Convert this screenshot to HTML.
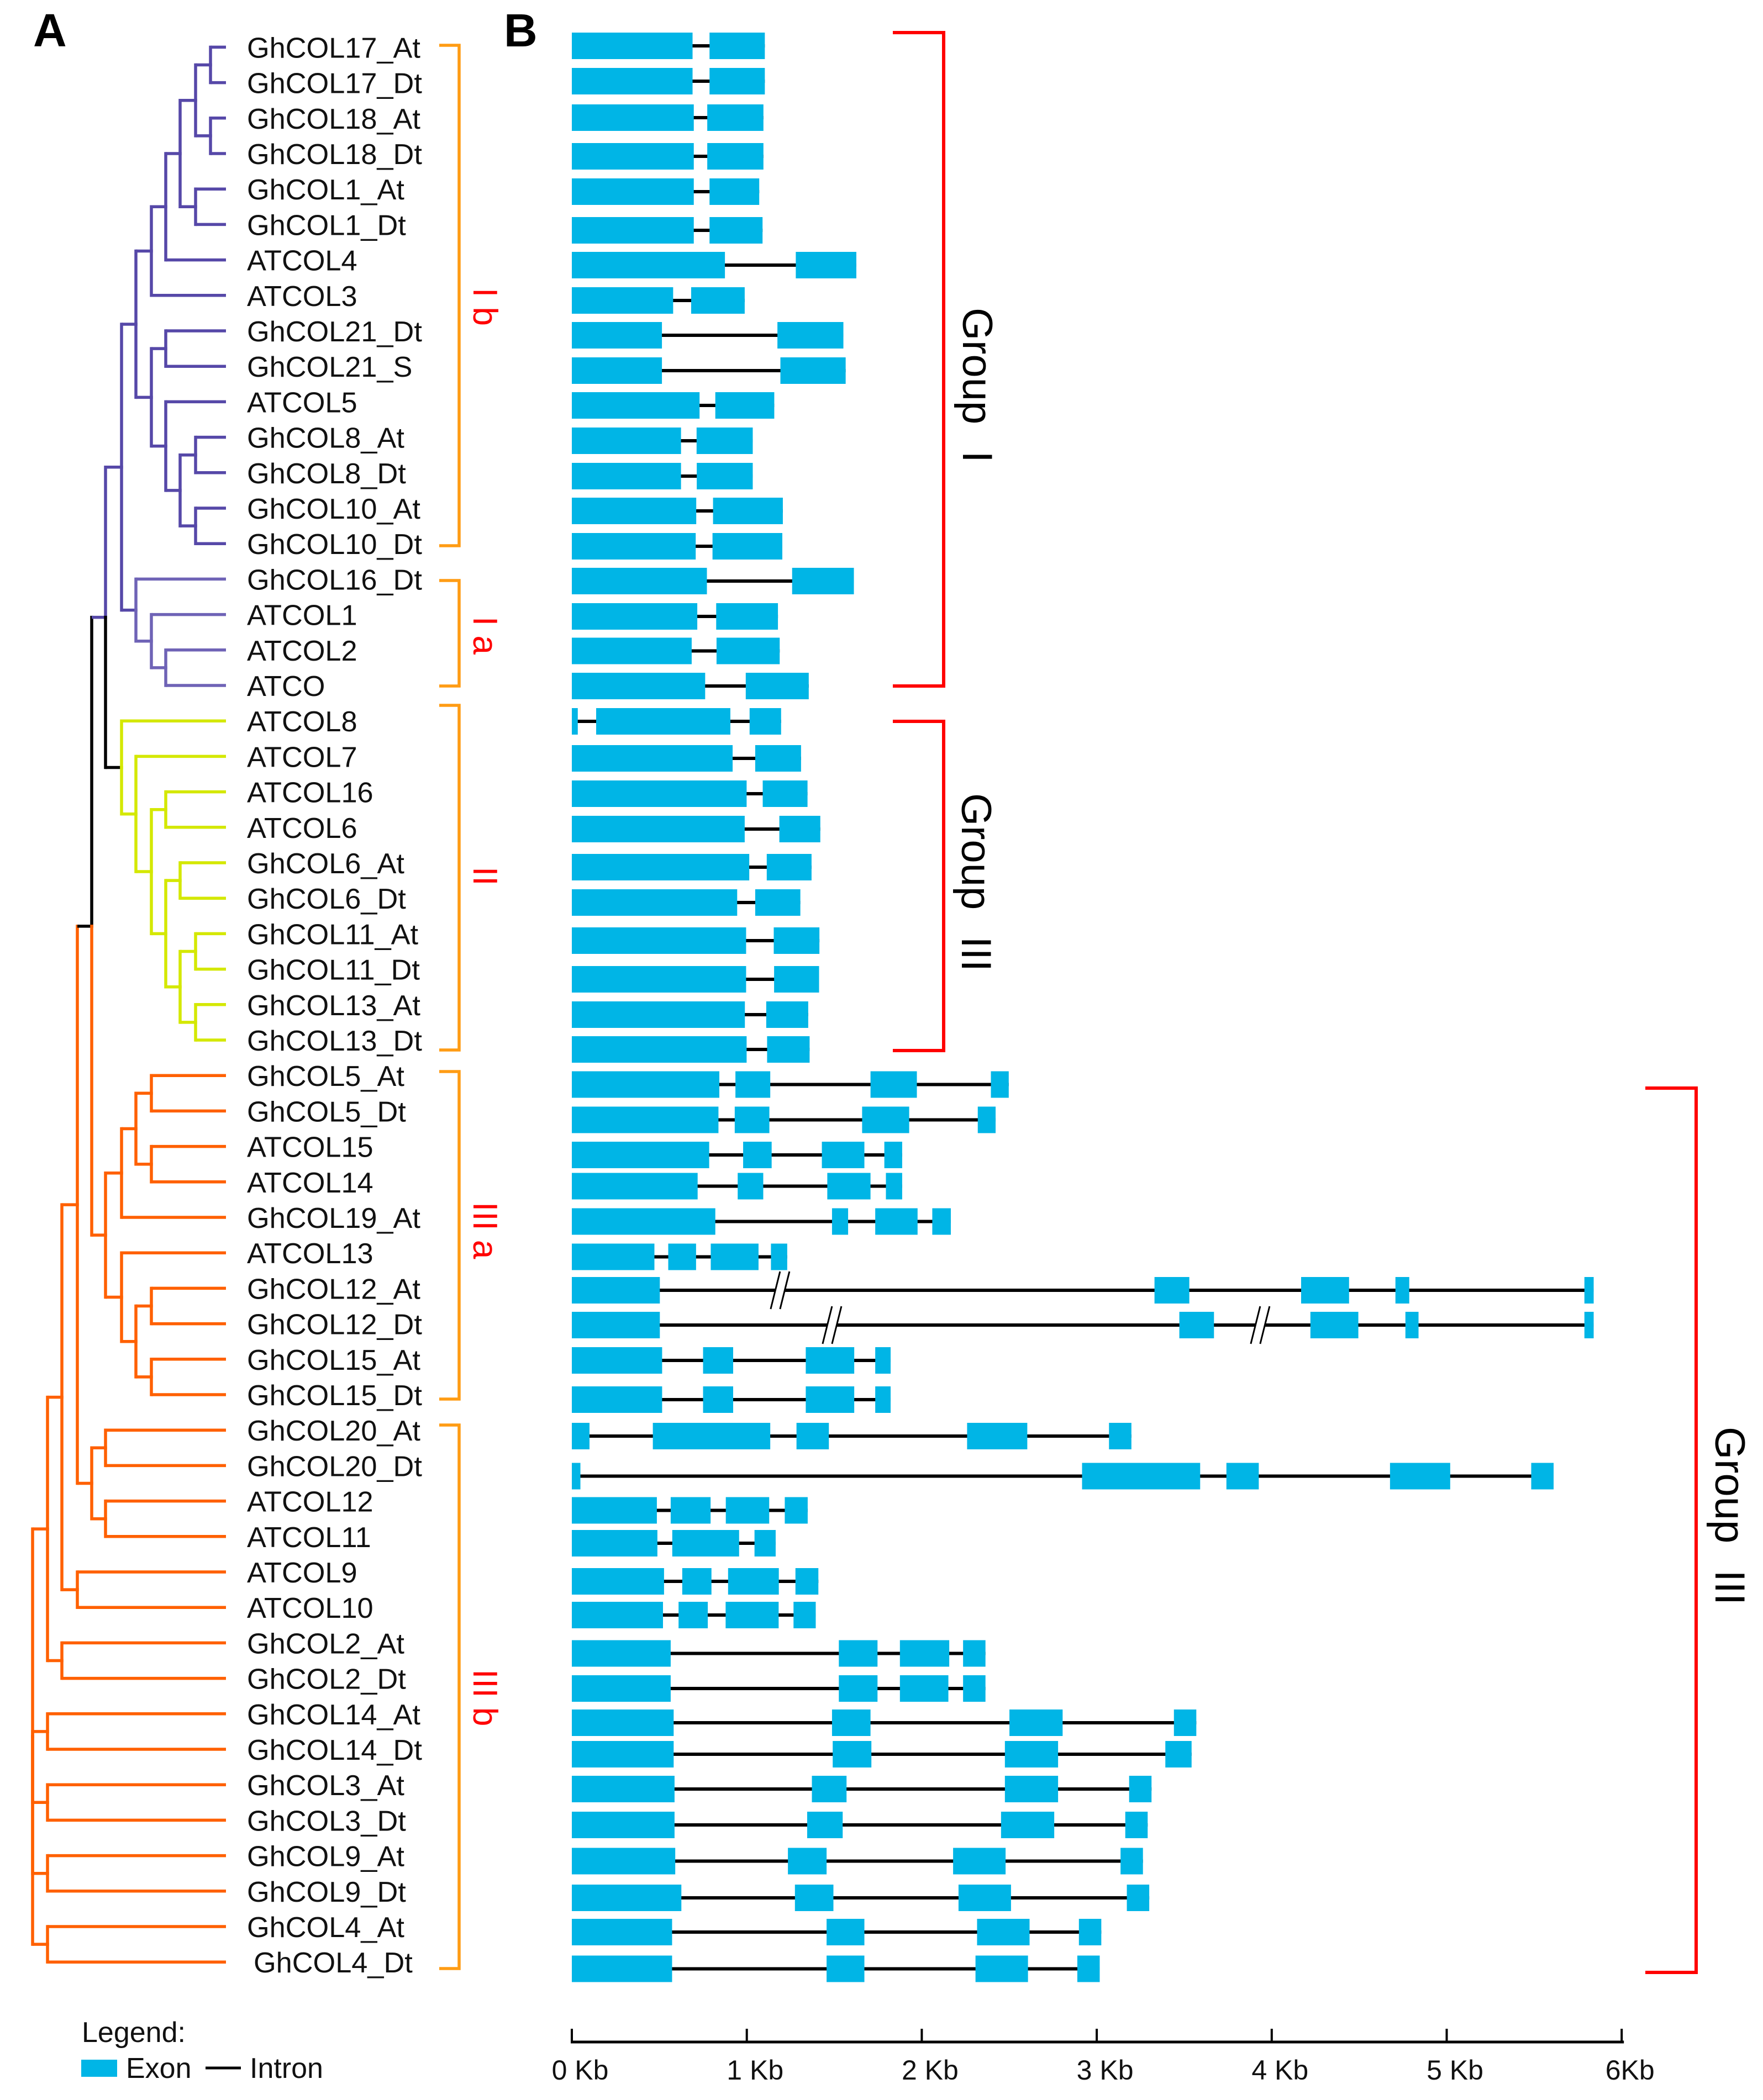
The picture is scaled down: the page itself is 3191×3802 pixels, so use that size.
<!DOCTYPE html>
<html lang="en">
<head>
<meta charset="utf-8">
<title>COL gene phylogeny and gene structure</title>
<style>
html,body{margin:0;padding:0;background:#fff;width:3191px;height:3802px;overflow:hidden}
svg{display:block}
text{font-family:"Liberation Sans",Arial,sans-serif;white-space:pre}
</style>
</head>
<body>
<svg id="figure" xmlns="http://www.w3.org/2000/svg" width="3191" height="3802" viewBox="0 0 3191 3802">
  <rect x="0" y="0" width="3191" height="3802" fill="#fff"/>
  <text x="60" y="84" font-size="84" font-weight="700">A</text>
  <text x="912" y="84" font-size="84" font-weight="700">B</text>

  <g id="tree"></g>
  <g id="leaf-labels"></g>

  <g fill="none" stroke="#ff9c14" stroke-width="5.5">
    <path d="M795 82H831V988H795"/>
    <path d="M795 1051H831V1242H795"/>
    <path d="M795 1277H831V1901H795"/>
    <path d="M795 1940H831V2533H795"/>
    <path d="M795 2580H831V3564H795"/>
  </g>
  <g fill="#ff0000" font-size="62">
    <text transform="translate(857,521) rotate(90)">I b</text>
    <text transform="translate(857,1116) rotate(90)">I a</text>
    <text transform="translate(857,1569) rotate(90)">II</text>
    <text transform="translate(857,2176) rotate(90)">III a</text>
    <text transform="translate(857,3022) rotate(90)">III b</text>
  </g>

  <g id="genes"></g>

  <g fill="none" stroke="#ff0000" stroke-width="6">
    <path d="M1616 59H1708V1242H1616"/>
    <path d="M1616 1306H1708V1902H1616"/>
    <path d="M2978 1970H3070V3571H2978"/>
  </g>
  <g font-size="76" word-spacing="3">
    <text transform="translate(1743,557) rotate(90)">Group  I</text>
    <text transform="translate(1741,1436) rotate(90)">Group  III</text>
    <text transform="translate(3105,2583) rotate(90)">Group  III</text>
  </g>

  <g id="axis"></g>

  <g>
    <text x="148" y="3697" font-size="52" fill="#111">Legend:</text>
    <rect x="147" y="3729" width="65" height="31" fill="#00b5e6"/>
    <text x="228" y="3762" font-size="52" fill="#111">Exon</text>
    <line x1="372" y1="3744" x2="436" y2="3744" stroke="#000" stroke-width="5"/>
    <text x="452" y="3762" font-size="52" fill="#111">Intron</text>
  </g>
</svg>

<script>
const geneNames = [
  "GhCOL17_At","GhCOL17_Dt","GhCOL18_At","GhCOL18_Dt","GhCOL1_At","GhCOL1_Dt","ATCOL4","ATCOL3",
  "GhCOL21_Dt","GhCOL21_S","ATCOL5","GhCOL8_At","GhCOL8_Dt","GhCOL10_At","GhCOL10_Dt","GhCOL16_Dt",
  "ATCOL1","ATCOL2","ATCO",
  "ATCOL8","ATCOL7","ATCOL16","ATCOL6","GhCOL6_At","GhCOL6_Dt","GhCOL11_At","GhCOL11_Dt","GhCOL13_At","GhCOL13_Dt",
  "GhCOL5_At","GhCOL5_Dt","ATCOL15","ATCOL14","GhCOL19_At","ATCOL13","GhCOL12_At","GhCOL12_Dt","GhCOL15_At","GhCOL15_Dt",
  "GhCOL20_At","GhCOL20_Dt","ATCOL12","ATCOL11","ATCOL9","ATCOL10","GhCOL2_At","GhCOL2_Dt","GhCOL14_At","GhCOL14_Dt",
  "GhCOL3_At","GhCOL3_Dt","GhCOL9_At","GhCOL9_Dt","GhCOL4_At","GhCOL4_Dt"
];

// Exon start/end per gene, in kilobases.
const groupOneExons = [
  [[0,.690],[.787,1.103]],[[0,.690],[.787,1.103]],[[0,.697],[.774,1.095]],[[0,.697],[.774,1.095]],
  [[0,.697],[.787,1.071]],[[0,.697],[.787,1.090]],[[0,.875],[1.280,1.626]],[[0,.579],[.682,.988]],
  [[0,.515],[1.175,1.552]],[[0,.515],[1.192,1.565]],[[0,.730],[.820,1.157]],[[0,.624],[.713,1.034]],
  [[0,.624],[.714,1.034]],[[0,.711],[.807,1.206]],[[0,.708],[.804,1.203]],[[0,.772],[1.259,1.612]],
  [[0,.717],[.825,1.178]],[[0,.685],[.827,1.188]],[[0,.762],[.994,1.354]]
];
const groupTwoExons = [
  [[0,.034],[.139,.906],[1.016,1.196]],[[0,.919],[1.048,1.310]],[[0,.999],[1.091,1.347]],[[0,.988],[1.186,1.420]],
  [[0,1.014],[1.114,1.370]],[[0,.945],[1.048,1.306]],[[0,.996],[1.154,1.415]],[[0,.996],[1.156,1.413]],
  [[0,.989],[1.111,1.351]],[[0,.999],[1.116,1.359]]
];
const groupThreeExons = [
  [[0,.843],[.935,1.134],[1.707,1.972],[2.395,2.497]],
  [[0,.838],[.931,1.129],[1.659,1.928],[2.320,2.422]],
  [[0,.785],[.979,1.142],[1.429,1.672],[1.786,1.888]],
  [[0,.719],[.948,1.094],[1.460,1.707],[1.795,1.888]],
  [[0,.820],[1.487,1.579],[1.734,1.976],[2.060,2.166]],
  [[0,.472],[.551,.710],[.794,1.067],[1.138,1.231]],
  [[0,.503],[3.330,3.529],[4.168,4.442],[4.707,4.786],[5.787,5.840]],
  [[0,.503],[3.472,3.670],[4.221,4.495],[4.764,4.839],[5.787,5.840]],
  [[0,.516],[.750,.922],[1.337,1.614],[1.734,1.822]],
  [[0,.516],[.750,.922],[1.337,1.614],[1.734,1.822]],
  [[0,.101],[.463,1.134],[1.284,1.469],[2.259,2.603],[3.070,3.198]],
  [[0,.049],[2.916,3.591],[3.741,3.926],[4.676,5.020],[5.483,5.611]],
  [[0,.486],[.565,.793],[.880,1.128],[1.217,1.348]],
  [[0,.489],[.574,.956],[1.044,1.165]],
  [[0,.527],[.631,.798],[.893,1.183],[1.278,1.409]],
  [[0,.521],[.610,.777],[.879,1.182],[1.267,1.394]],
  [[0,.565],[1.526,1.747],[1.875,2.157],[2.236,2.364]],
  [[0,.565],[1.526,1.747],[1.875,2.152],[2.236,2.364]],
  [[0,.582],[1.487,1.707],[2.501,2.805],[3.441,3.569]],
  [[0,.582],[1.491,1.712],[2.475,2.779],[3.392,3.542]],
  [[0,.587],[1.372,1.570],[2.475,2.779],[3.185,3.313]],
  [[0,.587],[1.345,1.548],[2.453,2.757],[3.163,3.291]],
  [[0,.591],[1.235,1.456],[2.179,2.479],[3.136,3.264]],
  [[0,.626],[1.275,1.495],[2.210,2.510],[3.172,3.300]],
  [[0,.573],[1.456,1.672],[2.316,2.616],[2.898,3.026]],
  [[0,.573],[1.456,1.672],[2.307,2.607],[2.889,3.017]]
];
// Intron axis-break marks: gene name, kb position.
const breakGenes = ["GhCOL12_At","GhCOL12_Dt","GhCOL12_Dt"];
const breakPositions = [1.19,1.487,3.934];

const axisTicks = [0,1,2,3,4,5,6];
const axisTickLabels = ["0 Kb","1 Kb","2 Kb","3 Kb","4 Kb","5 Kb","6Kb"];

// Tree topology: depth level, children (numbers are indexes into geneNames), clade colour.
const PURPLE = "#5648a8", LIGHT = "#6f63b6", YELLOW = "#d4e800", ORANGE = "#ff6000", BLACK = "#000";
function N(level, kids, style) { return Object.assign({level: level, kids: kids}, style || {}); }
const purpleClade = N(6, [
  N(7, [
    N(8, [
      N(9, [
        N(10, [
          N(11, [N(12,[0,1]), N(12,[2,3])]),
          N(11, [4,5])
        ]),
        6
      ]),
      7
    ]),
    N(8, [
      N(9, [8,9]),
      N(9, [10, N(10, [N(11,[11,12]), N(11,[13,14])])])
    ])
  ]),
  N(7, [15, N(8, [16, N(9, [17,18])])], {c: LIGHT, v: PURPLE, h: PURPLE})
], {c: PURPLE});
const yellowClade = N(6, [
  19,
  N(7, [
    20,
    N(8, [
      N(9, [21,22]),
      N(9, [
        N(10, [23,24]),
        N(10, [N(11,[25,26]), N(11,[27,28])])
      ])
    ])
  ])
], {c: YELLOW, v: BLACK, h: BLACK});
const orangeUpper = N(5, [
  N(6, [
    N(7, [N(8,[29,30]), N(8,[31,32])]),
    33
  ]),
  N(6, [
    34,
    N(7, [N(8,[35,36]), N(8,[37,38])])
  ])
]);
const treeRoot = N(0, [
  N(1, [
    N(2, [
      N(3, [
        N(4, [
          N(5, [purpleClade, yellowClade], {v: BLACK, h: PURPLE}),
          orangeUpper
        ], {h: BLACK}),
        N(4, [N(5,[39,40]), N(5,[41,42])])
      ]),
      N(3, [43,44])
    ]),
    N(2, [45,46])
  ]),
  N(1, [47,48]), N(1, [49,50]), N(1, [51,52]), N(1, [53,54])
], {c: ORANGE});

const SVG_NS = "http://www.w3.org/2000/svg";
function make(tag, parent) { const e = document.createElementNS(SVG_NS, tag); parent.appendChild(e); return e; }

/* ---------- axes ---------- */
function xKb(kb) { return 1035 + 316.7 * kb; }
function leafY(i) { return 85.4 + 64.2 * i; }
function levelX(l) { return l >= 13 ? 409 : [59,86,112,140,166,191,220,246,274,300,326,354,381][l]; }
function trackY(i) {
  const centers = [83,147,213,283,347,417,480,544,607,671,734,798,862,925,989,1052,1116,1178.5,1242,
    1306,1373,1437,1501,1570,1634,1703,1773,1837,1900,
    1963.5,2027.5,2091,2147.5,2211.5,2275.5,2336,2399,2463,2534,2600,2672.5,2734.5,2794,2863,2924,
    2993.5,3057,3119,3176,3239,3304,3369.5,3436,3498,3564.5];
  return centers[i];
}

/* ---------- tree ---------- */
const treeGroup = document.getElementById("tree");
function branch(x1, y1, x2, y2, color, cap) {
  const ln = make("line", treeGroup);
  
  
  ln.setAttribute("x1", x1); ln.setAttribute("y1", y1);
  ln.setAttribute("x2", x2); ln.setAttribute("y2", y2);
  ln.setAttribute("stroke", color);
  ln.setAttribute("stroke-width", "5.5");
  ln.setAttribute("stroke-linecap", cap);
}
function nodeY(n) {
  if (typeof n === "number") return leafY(n);
  return (nodeY(n.kids[0]) + nodeY(n.kids[n.kids.length - 1])) / 2;
}
function drawTree(n, inherited) {
  const color = n.c || inherited;
  const px = levelX(n.level), py = nodeY(n);
  n.kids.forEach(function (k) {
    const isLeaf = typeof k === "number";
    const cy = nodeY(k);
    const cx = isLeaf ? levelX(13) : levelX(k.level);
    const own = isLeaf ? color : (k.c || color);
    const vCol = isLeaf ? color : (k.v || own);
    const hCol = isLeaf ? color : (k.h || own);
    branch(px, py, px, cy, vCol, "square");
    branch(px, cy, cx, cy, hCol, "butt");
    if (!isLeaf) drawTree(k, color);
  });
}
drawTree(treeRoot, ORANGE);

/* ---------- labels ---------- */
const labelGroup = document.getElementById("leaf-labels");
geneNames.forEach(function (name, i) {
  const t = make("text", labelGroup);
  
  
  t.setAttribute("x", name === "GhCOL4_Dt" ? 459 : 447);
  t.setAttribute("y", leafY(i) + 19);
  t.setAttribute("font-size", "52.3");
  t.setAttribute("fill", "#111");
  t.textContent = name;
});

/* ---------- gene structures ---------- */
const geneGroup = document.getElementById("genes");
const allExons = groupOneExons.concat(groupTwoExons, groupThreeExons);
allExons.forEach(function (exons, i) {
  const cy = trackY(i);
  const intron = make("line", geneGroup);
  
  
  intron.setAttribute("x1", xKb(exons[0][0]));
  intron.setAttribute("x2", xKb(exons[exons.length - 1][1]));
  intron.setAttribute("y1", cy);
  intron.setAttribute("y2", cy);
  intron.setAttribute("stroke", "#000");
  intron.setAttribute("stroke-width", "6");
  exons.forEach(function (ex) {
    const r = make("rect", geneGroup);
    
    
    r.setAttribute("x", xKb(ex[0]));
    r.setAttribute("width", xKb(ex[1]) - xKb(ex[0]));
    r.setAttribute("y", cy - 24);
    r.setAttribute("height", 48);
    r.setAttribute("fill", "#00b5e6");
  });
});
breakPositions.forEach(function (kb, i) {
  const row = geneNames.indexOf(breakGenes[i]);
  const cx = xKb(kb), cy = trackY(row);
  const gap = make("polygon", geneGroup);
  
  
  gap.setAttribute("points", [[cx-17,cy+34],[cx,cy+34],[cx+17,cy-34],[cx,cy-34]].map(function (p) { return p.join(","); }).join(" "));
  gap.setAttribute("fill", "#fff");
  [-8.5, 8.5].forEach(function (off) {
    const s = make("line", geneGroup);
    
    
    s.setAttribute("x1", cx + off - 8.5);
    s.setAttribute("y1", cy + 34);
    s.setAttribute("x2", cx + off + 8.5);
    s.setAttribute("y2", cy - 34);
    s.setAttribute("stroke", "#000");
    s.setAttribute("stroke-width", "3");
  });
});

/* ---------- axis ---------- */
const axisGroup = document.getElementById("axis");
const axisLine = make("line", axisGroup);


axisLine.setAttribute("x1", xKb(axisTicks[0]) - 2);
axisLine.setAttribute("x2", xKb(axisTicks[axisTicks.length - 1]) + 4);
axisLine.setAttribute("y1", 3697);
axisLine.setAttribute("y2", 3697);
axisLine.setAttribute("stroke", "#000");
axisLine.setAttribute("stroke-width", "5");
axisTicks.forEach(function (kb, i) {
  const tick = make("line", axisGroup);
  
  
  tick.setAttribute("x1", xKb(kb));
  tick.setAttribute("x2", xKb(kb));
  tick.setAttribute("y1", 3673);
  tick.setAttribute("y2", 3697);
  tick.setAttribute("stroke", "#000");
  tick.setAttribute("stroke-width", "4");
  const lab = make("text", axisGroup);
  
  
  lab.setAttribute("x", xKb(kb) + 15);
  lab.setAttribute("y", 3765);
  lab.setAttribute("text-anchor", "middle");
  lab.setAttribute("font-size", "50");
  lab.setAttribute("fill", "#111");
  lab.textContent = axisTickLabels[i];
});
</script>
</body>
</html>
